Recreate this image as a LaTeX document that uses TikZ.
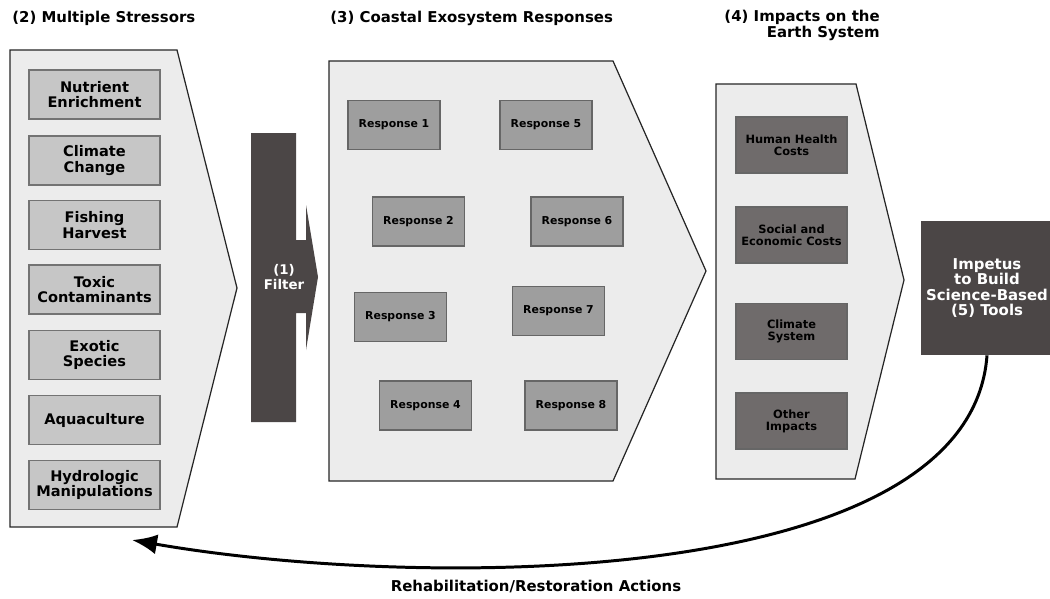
\documentclass[tikz,border=0pt]{standalone}
\usepackage{fontspec}
\setmainfont{DejaVu Sans}
\usetikzlibrary{positioning, arrows.meta}
\definecolor{panelgray}{HTML}{ECECEC}
\definecolor{stressgray}{HTML}{C6C6C6}
\definecolor{respgray}{HTML}{9E9E9E}
\definecolor{impgray}{HTML}{6F6B6B}
\definecolor{darkgray}{HTML}{4B4646}
\tikzset{%
  panel/.style    = {draw = black!85, line width = 0.7pt, fill = panelgray},
  stressor/.style = {draw = black!55, line width = 0.6pt, fill = stressgray,
    minimum width = 2.62cm, minimum height = 0.98cm, inner sep = 0pt,
    align = center, font = \fontsize{8.3}{8.7}\selectfont\bfseries},
  response/.style = {draw = black!60, line width = 0.6pt, fill = respgray,
    minimum width = 1.84cm, minimum height = 0.98cm, inner sep = 0pt,
    font = \fontsize{6.2}{7}\selectfont\bfseries},
  impact/.style   = {draw = black!60, line width = 0.6pt, fill = impgray,
    minimum width = 2.22cm, minimum height = 1.12cm, inner sep = 0pt,
    align = center, font = \fontsize{6.5}{7}\selectfont\bfseries},
  tool/.style     = {fill = darkgray, text = white, minimum width = 2.64cm,
    minimum height = 2.68cm, inner sep = 0pt, align = center,
    font = \fontsize{8.5}{8.6}\selectfont\bfseries},
  heading/.style  = {inner sep = 0pt, align = center,
    font = \fontsize{8.5}{7.6}\selectfont\bfseries},
  back arrow/.style = {-{Latex[length = 5mm, width = 4mm]}, line width = 1.7pt}
}

\begin{document}
\begin{tikzpicture}[x = 0.02cm, y = -0.02cm]
\useasboundingbox (0,0) rectangle (1050,598);
%panels
\draw[panel] (10,50) -- (177,50) -- (237,288) -- (177,527) -- (10,527) -- cycle;
\draw[panel] (329,61) -- (613,61) -- (706,271) -- (613,481) -- (329,481) -- cycle;
\draw[panel] (716,84) -- (856,84) -- (904,280) -- (855,479) -- (716,479) -- cycle;
%filter
\fill[darkgray] (251,133) -- (296,133) -- (296,240) -- (306,240) -- (306,205)
  -- (318,277) -- (306,350) -- (306,313) -- (296,313) -- (296,422)
  -- (251,422) -- cycle;
\node[heading, text = white, font = \fontsize{7.6}{8.6}\selectfont\bfseries]
  (filter) at (284,277) {(1)\\Filter};
%blocks
\draw
  (94.5,94.5) node [stressor] (s1) {Nutrient\\Enrichment}
  (94.5,160.5) node [stressor] (s2) {Climate\\Change}
  (94.5,225) node [stressor] (s3) {Fishing\\Harvest}
  (94.5,289.5) node [stressor] (s4) {Toxic\\Contaminants}
  (94.5,355) node [stressor] (s5) {Exotic\\Species}
  (94.5,420) node [stressor] (s6) {Aquaculture}
  (94.5,485) node [stressor] (s7) {Hydrologic\\Manipulations};
\draw
  (394,125) node [response] (r1) {Response 1}
  (418.5,221.5) node [response] (r2) {Response 2}
  (400.5,317) node [response] (r3) {Response 3}
  (425.5,405.5) node [response] (r4) {Response 4}
  (546,125) node [response] (r5) {Response 5}
  (577,221.5) node [response] (r6) {Response 6}
  (558.5,311) node [response] (r7) {Response 7}
  (571,405.5) node [response] (r8) {Response 8};
\draw
  (791.5,145) node [impact] (i1) {Human Health\\Costs}
  (791.5,235) node [impact] (i2) {Social and\\Economic Costs}
  (791.5,331.5) node [impact] (i3) {Climate\\System}
  (791.5,421) node [impact] (i4) {Other\\Impacts};
\node[tool] (tools) at (987,288) {Impetus\\to Build\\Science-Based\\(5) Tools};
%labels
\node[heading, anchor = base west] (hstress) at (12,22.5) {(2) Multiple Stressors};
\node[heading, anchor = base west] (hresp) at (330,22.5) {(3) Coastal Exosystem Responses};
\node[heading, align = right, anchor = north east] (himpact) at (880,10)
  {(4) Impacts on the\\Earth System};
\node[heading] (haction) at (536,587) {Rehabilitation/Restoration Actions};
%lines
\coordinate (back) at (132,540);
\draw[back arrow] (tools.south) .. controls (970,590) and (420,590) .. (back);
\end{tikzpicture}
\end{document}
